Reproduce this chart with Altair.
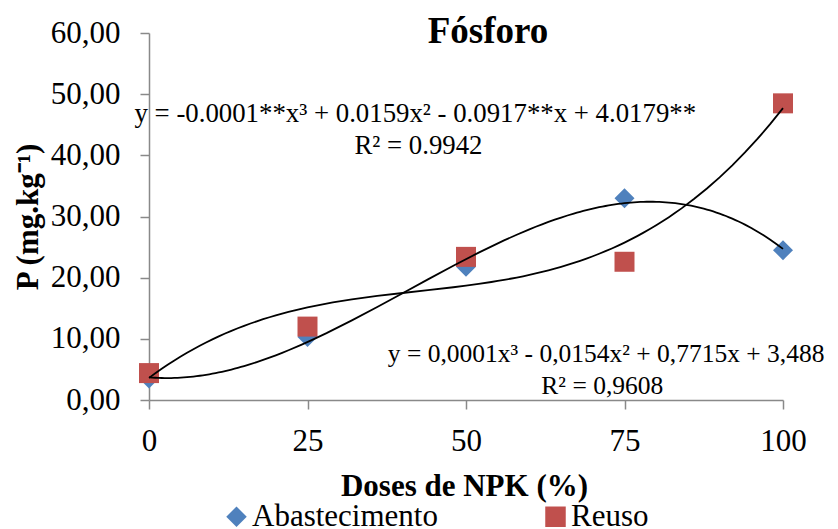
import altair as alt
import pandas as pd

# ---- data ----
doses = [0, 25, 50, 75, 100]
abastecimento = [3.5, 10.3, 21.8, 33.0, 24.5]
reuso = [4.4, 12.0, 23.4, 22.6, 48.5]
series_names = ["Abastecimento", "Reuso"]
series_colors = ["#4F81BD", "#C0504D"]
series_shapes = ["diamond", "square"]

eq_text = [
    "y = -0.0001**x³ + 0.0159x² - 0.0917**x + 4.0179**",
    "R² = 0.9942",
    "y = 0,0001x³ - 0,0154x² + 0,7715x + 3,488",
    "R² = 0,9608",
]
eq_size = [26.8, 26.8, 25.5, 25.5]
eq_x = [42.0, 42.5, 72.1, 71.5]
eq_y = [45.4, 40.2, 6.2, 1.0]

x_ticks = [0, 25, 50, 75, 100]
y_ticks = [0, 10, 20, 30, 40, 50, 60]
chart_title = "Fósforo"

FONT = "Liberation Serif"

rows = []
for name, vals in zip(series_names, [abastecimento, reuso]):
    for d, v in zip(doses, vals):
        rows.append({"dose": d, "valor": v, "serie": name})
df = pd.DataFrame(rows)
eq_df = pd.DataFrame({"texto": eq_text, "x": eq_x, "y": eq_y, "size": eq_size})
title_df = pd.DataFrame({"t": [chart_title]})

x_scale = alt.Scale(domain=[0, 100], nice=False, zero=False)
y_scale = alt.Scale(domain=[0, 60], nice=False)

x_enc = alt.X(
    "dose:Q",
    scale=x_scale,
    axis=alt.Axis(
        values=x_ticks,
        title="Doses de NPK (%)",
        grid=False,
        tickSize=9,
        labelPadding=17,
        labelFlush=False,
        titleX=315,
        titleY=95,
        titleBaseline="alphabetic",
        titleAlign="center",
    ),
)
y_enc = alt.Y(
    "valor:Q",
    scale=y_scale,
    axis=alt.Axis(
        values=y_ticks,
        title="P (mg.kg⁻¹)",
        grid=False,
        tickSize=9,
        labelPadding=20,
        labelFlush=False,
        labelExpr="replace(format(datum.value, '.2f'), '.', ',')",
        titleX=-105,
        titleY=183.5,
        titleAngle=-90,
        titleAlign="center",
        titleBaseline="bottom",
    ),
)

legend = alt.Legend(
    title=None,
    orient="none",
    legendX=72,
    legendY=468,
    direction="horizontal",
    columnPadding=102,
    symbolSize=420,
    symbolStrokeWidth=0,
    labelFontSize=31,
    labelFont=FONT,
    labelColor="black",
    labelOffset=0,
    labelLimit=400,
)

points = alt.Chart(df).mark_point(filled=True, opacity=1, size=400).encode(
    x=x_enc,
    y=y_enc,
    color=alt.Color("serie:N", scale=alt.Scale(domain=series_names, range=series_colors), legend=legend),
    shape=alt.Shape("serie:N", scale=alt.Scale(domain=series_names, range=series_shapes), legend=legend),
)

curves = (
    alt.Chart(df)
    .transform_regression("dose", "valor", method="poly", order=3, groupby=["serie"])
    .mark_line(color="black", strokeWidth=1.8)
    .encode(
        x=alt.X("dose:Q", scale=x_scale),
        y=alt.Y("valor:Q", scale=y_scale),
        detail="serie:N",
    )
)

equations = alt.Chart(eq_df).mark_text(
    font=FONT, color="black", align="center", baseline="alphabetic"
).encode(
    x=alt.X("x:Q", scale=x_scale),
    y=alt.Y("y:Q", scale=y_scale),
    text="texto:N",
    size=alt.Size("size:Q", scale=None, legend=None),
)

title_mark = alt.Chart(title_df).mark_text(
    font=FONT, fontSize=37, fontWeight="bold", color="black", align="center", baseline="alphabetic"
).encode(
    x=alt.value(339),
    y=alt.value(10),
    text="t:N",
)

chart = (
    alt.layer(points, curves, equations, title_mark)
    .properties(
        width=634,
        height=367,
        autosize=alt.AutoSizeParams(type="none"),
        padding={"left": 149, "top": 33, "right": 55, "bottom": 129},
    )
    .configure_view(stroke=None)
    .configure_axis(
        domainColor="#898989",
        domainWidth=1.5,
        tickColor="#898989",
        tickWidth=1.5,
        labelFont=FONT,
        labelFontSize=31,
        labelColor="black",
        titleFont=FONT,
        titleFontSize=31,
        titleFontWeight="bold",
        titleColor="black",
    )
)

chart.save("out.html", embed_options={"renderer": "svg", "actions": False})
